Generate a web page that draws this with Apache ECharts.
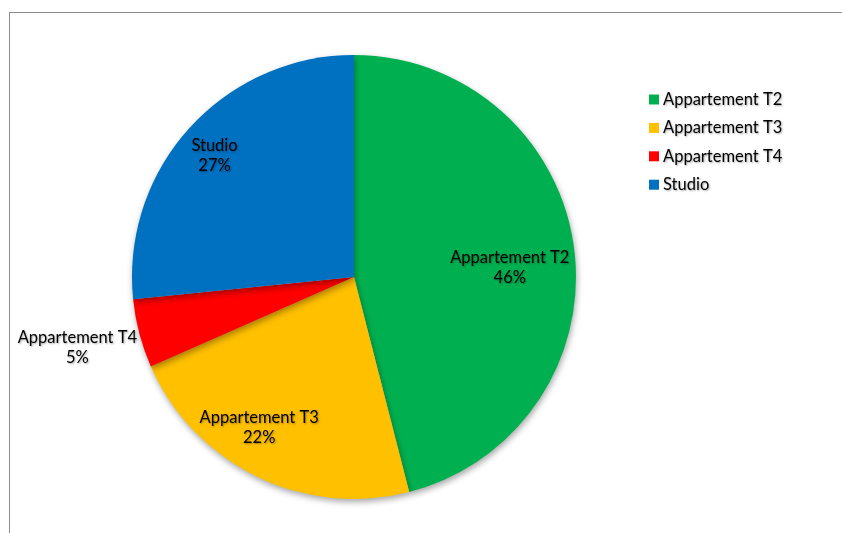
<!DOCTYPE html>
<html><head><meta charset="utf-8">
<script src="https://cdn.jsdelivr.net/npm/echarts@6/dist/echarts.min.js"></script>
<style>
html,body{margin:0;padding:0;background:#fff;}
#frame{position:absolute;left:9px;top:12px;width:900px;height:600px;border-left:1.5px solid #8c8c8c;border-top:1.5px solid #8c8c8c;}
#chart{position:absolute;left:0;top:0;width:842px;height:533px;}
</style></head>
<body>
<div id="frame"></div>
<div id="chart"></div>
<script>
const categories = ['Appartement T2', 'Appartement T3', 'Appartement T4', 'Studio'];
const values = [46, 22.4, 5, 26.6];
const colors = ['#00B050', '#FFC000', '#FF0000', '#0070C0'];

const FONT = 'Lato';
const FS = 16.5;
const shadowText = {textShadowColor: 'rgba(0,0,0,0.35)', textShadowBlur: 2, textShadowOffsetX: 1, textShadowOffsetY: 1};
const total = values.reduce((a, b) => a + b, 0);

const pieData = categories.map((c, i) => ({name: c, value: values[i], itemStyle: {color: colors[i]}}));

// label overlays: each shows the label of one slice at its own radius
function overlay(inner, shown, position, padding) {
  return {
    type: 'pie', center: [354, 277], radius: [inner, 222], startAngle: 90, clockwise: true,
    silent: true, legendHoverLink: false,
    itemStyle: {color: 'rgba(0,0,0,0)'},
    emphasis: {disabled: true},
    labelLine: {show: false, length: 0, length2: 0},
    label: {
      show: true, position: position, overflow: 'none', bleedMargin: 0, distanceToLabelLine: 2,
      padding: padding,
      formatter: p => '{a|' + p.name + '}\n{a|' + Math.round(p.value / total * 100) + '%}',
      rich: {a: Object.assign({fontFamily: FONT, fontSize: FS, color: '#000', width: 120, align: 'center', lineHeight: 20}, shadowText)}
    },
    data: categories.map((c, i) => ({name: c, value: values[i], label: {show: c === shown}}))
  };
}

const chart = echarts.init(document.getElementById('chart'));
chart.setOption({
  animation: false,
  legend: {
    orient: 'vertical', left: 644, top: 86,
    itemWidth: 10, itemHeight: 10, itemGap: 11.4, icon: 'rect',
    textStyle: Object.assign({fontFamily: FONT, fontSize: FS, color: '#000', padding: [0, 0, 0, -1]}, shadowText),
    data: categories
  },
  series: [
    {
      type: 'pie', center: [354, 277], radius: 222, startAngle: 90, clockwise: true,
      label: {show: false}, labelLine: {show: false},
      itemStyle: {shadowBlur: 6, shadowColor: 'rgba(0,0,0,0.35)', shadowOffsetY: 3, shadowOffsetX: 1},
      emphasis: {disabled: true},
      data: pieData
    },
    overlay(86, 'Appartement T2', 'inside', [20, 0, 0, 0]),
    overlay(128, 'Appartement T3', 'inside', [0, 34, 18, 0]),
    overlay(148, 'Studio', 'inside', [10, 0, 0, 0]),
    overlay(0, 'Appartement T4', 'outside', [28, 0, 0, 0])
  ]
});
</script>
</body></html>
